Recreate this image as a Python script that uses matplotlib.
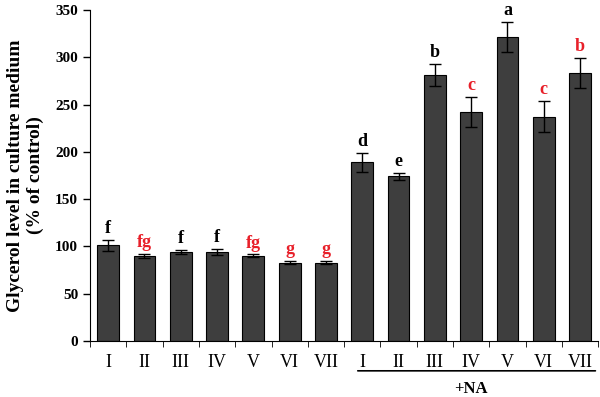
import numpy as np
import matplotlib.pyplot as plt

plt.rcParams['font.family'] = ['Liberation Serif', 'DejaVu Serif']

groups = ['I', 'II', 'III', 'IV', 'V', 'VI', 'VII'] * 2
values = [101, 90, 94, 94, 90, 83, 83, 189, 174, 281, 242, 321, 237, 283]
errors = [6, 2.5, 2, 3, 1.5, 1.5, 1.5, 10, 3.5, 11.5, 16, 16, 16.5, 16]
letters = ['f', 'fg', 'f', 'f', 'fg', 'g', 'g', 'd', 'e', 'b', 'c', 'a', 'c', 'b']
letter_red = [False, True, False, False, True, True, True,
              False, False, False, True, False, True, True]

fig = plt.figure(figsize=(6, 3.97), dpi=100)
ax = fig.add_axes([0.150, 0.141, 0.847, 0.834])

x = np.arange(len(values))
ax.bar(x, values, width=0.6, color='#3e3e3e', edgecolor='black', linewidth=0.8,
       yerr=errors, capsize=4, error_kw=dict(elinewidth=1, capthick=1, ecolor='black'))

for xi, v, e, lab, red in zip(x, values, errors, letters, letter_red):
    ax.text(xi, v + e + 3, lab, ha='center', va='bottom', fontsize=13, fontweight='bold',
            color='#e8202a' if red else 'black')

ax.set_xlim(-0.5, 13.5)
ax.set_ylim(0, 350)
ax.set_yticks(np.arange(0, 351, 50))
ax.set_yticklabels([str(t) for t in range(0, 351, 50)], fontsize=11, fontweight='bold')
ax.set_xticks(x)
ax.set_xticklabels(groups, fontsize=13)
ax.set_xticks(np.arange(-0.5, 14, 1), minor=True)
ax.tick_params(axis='x', which='major', length=0, pad=9)
ax.tick_params(axis='x', which='minor', length=4, direction='out')
ax.tick_params(axis='y', length=5, direction='out', width=1)
ax.spines['top'].set_visible(False)
ax.spines['right'].set_visible(False)
ax.set_ylabel('Glycerol level in culture medium\n(% of control)', fontsize=14,
              fontweight='bold', labelpad=8)

# +NA group marker
ax.annotate('', xy=(6.8, -0.09), xytext=(13.5, -0.09), xycoords=('data', 'axes fraction'),
            arrowprops=dict(arrowstyle='-', color='black', lw=1.2), annotation_clip=False)
ax.text(10.0, -0.12, '+NA', transform=ax.get_xaxis_transform(), ha='center', va='top',
        fontsize=12, fontweight='bold')

fig.savefig('out.png', dpi=100)
